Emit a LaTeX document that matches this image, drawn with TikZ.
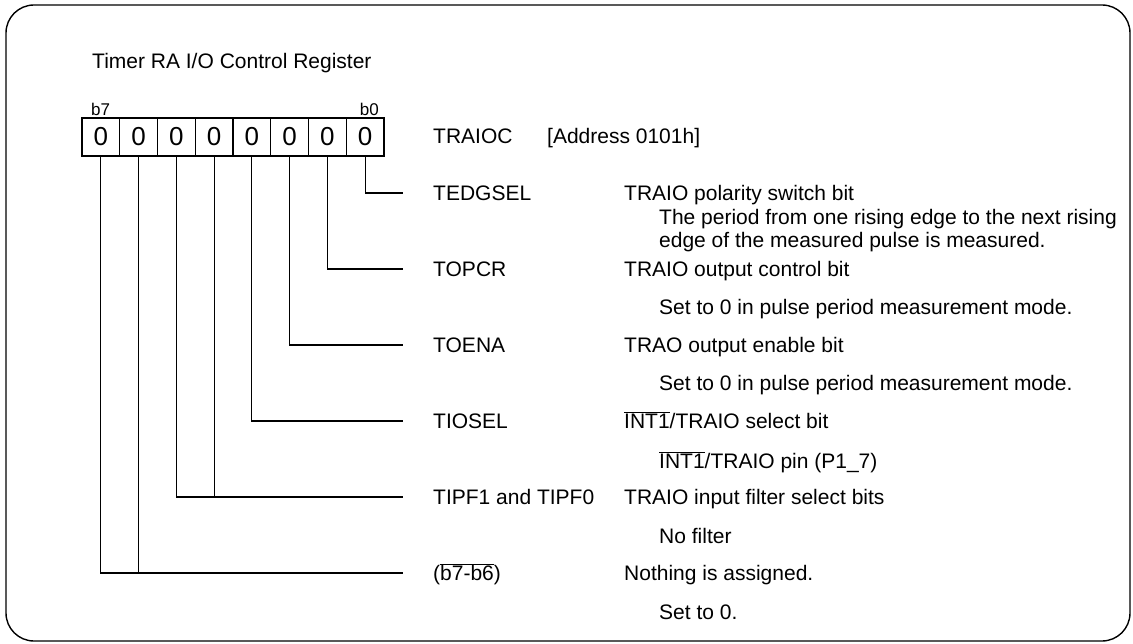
\documentclass[tikz,border=0pt]{standalone}
\usepackage{fontspec}
\setmainfont{Liberation Sans}
\newcommand\txtsz{\fontsize{21pt}{24pt}\selectfont}
\newcommand\bitsz{\fontsize{17pt}{19pt}\selectfont}
\newcommand\zerosz{\fontsize{26pt}{28pt}\selectfont}
\newcommand\ovl[1]{$\overline{\mbox{#1}}$}
\begin{document}
\begin{tikzpicture}[x=1pt,y=-1pt,
  lbl/.style={font=\txtsz, inner sep=0pt, anchor=base west},
  bitlbl/.style={font=\bitsz, inner sep=0pt},
  cell/.style={draw, line width=1.2pt, minimum width=37.75pt, minimum height=38pt, inner sep=0pt, font=\zerosz},
  conn/.style={line width=1.2pt},
  frame/.style={draw, line width=1.4pt, rounded corners=28pt}]
\useasboundingbox (0,0) rectangle (1133,644);
\path[frame] (6,5) rectangle (1130,641);
\node[lbl] (title) at (92,68.5) {Timer RA I/O Control Register};
% register cells
\foreach \b in {0,...,7}{
  \node[cell] (c\b) at ({82+37.75*(7-\b+0.5)},137) {0};
}
\node[bitlbl, anchor=base west] (b7) at (91,115.5) {b7};
\node[bitlbl, anchor=base east] (b0) at (379,115.5) {b0};
\node[lbl] (reg) at (433,144) {TRAIOC};
\node[lbl] (addr) at (547,144) {[Address 0101h]};
% line ends
\coordinate (e0) at (403,193);
\coordinate (e1) at (403,269);
\coordinate (e2) at (403,345);
\coordinate (e3) at (403,421);
\coordinate (e45) at (403,497);
\coordinate (e67) at (403,573);
\draw[conn] (c0.south) |- (e0);
\draw[conn] (c1.south) |- (e1);
\draw[conn] (c2.south) |- (e2);
\draw[conn] (c3.south) |- (e3);
\draw[conn] (c5.south) |- (e45);
\draw[conn] (c4.south) -- (c4.south |- e45);
\draw[conn] (c7.south) |- (e67);
\draw[conn] (c6.south) -- (c6.south |- e67);
% names
\node[lbl] (n0) at (433,200.5) {TEDGSEL};
\node[lbl] (n1) at (433,276.5) {TOPCR};
\node[lbl] (n2) at (433,352.5) {TOENA};
\node[lbl] (n3) at (433,428.5) {TIOSEL};
\node[lbl] (n45) at (433,504.5) {TIPF1 and TIPF0};
\node[lbl] (n67) at (433,580.5) {(\ovl{b7-b6})};
% functions
\node[lbl] (f0) at (624,200.5) {TRAIO polarity switch bit};
\node[lbl] (d0a) at (659,224.5) {The period from one rising edge to the next rising};
\node[lbl] (d0b) at (659,248) {edge of the measured pulse is measured.};
\node[lbl] (f1) at (624,276.5) {TRAIO output control bit};
\node[lbl] (d1) at (659,315) {Set to 0 in pulse period measurement mode.};
\node[lbl] (f2) at (624,352.5) {TRAO output enable bit};
\node[lbl] (d2) at (659,391) {Set to 0 in pulse period measurement mode.};
\node[lbl] (f3) at (624,428.5) {\ovl{INT1}/TRAIO select bit};
\node[lbl] (d3) at (659,468) {\ovl{INT1}/TRAIO pin (P1\_7)};
\node[lbl] (f45) at (624,504.5) {TRAIO input filter select bits};
\node[lbl] (d45) at (659,543) {No filter};
\node[lbl] (f67) at (624,580.5) {Nothing is assigned.};
\node[lbl] (d67) at (659,619) {Set to 0.};
\end{tikzpicture}
\end{document}
